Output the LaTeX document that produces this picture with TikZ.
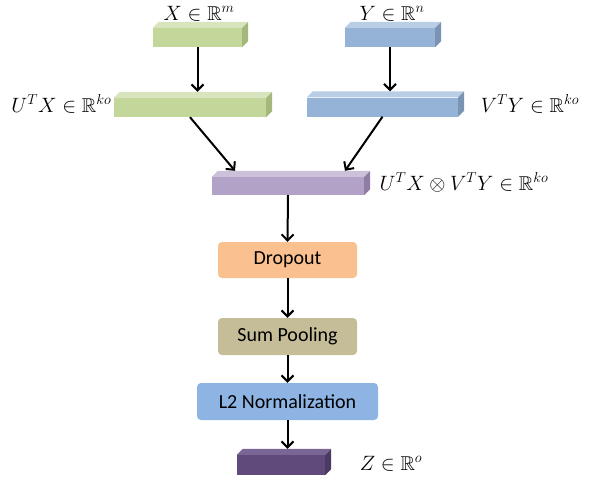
\documentclass[tikz,border=0pt]{standalone}
\usepackage{amsmath, amssymb}
\usepackage{fontspec}
\usepackage{tikz}
\usetikzlibrary{arrows.meta}
\newfontfamily\boxfont{Carlito}

\definecolor{gfront}{HTML}{C4D79B}
\definecolor{gtop}{HTML}{D7E4BD}
\definecolor{gside}{HTML}{A3B87A}
\definecolor{bfront}{HTML}{95B3D7}
\definecolor{btop}{HTML}{B9CDE5}
\definecolor{bside}{HTML}{7A93B3}
\definecolor{pfront}{HTML}{B3A2C7}
\definecolor{ptop}{HTML}{CCC1DA}
\definecolor{pside}{HTML}{8F7DA5}
\definecolor{zfront}{HTML}{604A7B}
\definecolor{ztop}{HTML}{7A6694}
\definecolor{zside}{HTML}{4B3A61}
\definecolor{dropfill}{HTML}{FAC090}
\definecolor{sumfill}{HTML}{C4BD97}
\definecolor{normfill}{HTML}{8DB4E2}

% top and side faces of a flat slab
\newcommand{\slab}[3]{%
  \fill[#2] (#1.north west) -- ++(6pt,6pt) -- ([shift={(6pt,6pt)}]#1.north east) -- (#1.north east) -- cycle;
  \fill[#3] (#1.north east) -- ++(6pt,6pt) -- ([shift={(6pt,6pt)}]#1.south east) -- (#1.south east) -- cycle;
  \coordinate (#1-top) at ([yshift=6pt]#1.north);
}

\begin{document}
\begin{tikzpicture}[x=1pt,y=-1pt,
    slabbox/.style={rectangle,inner sep=0pt,minimum height=19pt},
    layer/.style={rectangle,rounded corners=4pt,inner sep=0pt,minimum width=139pt,minimum height=37pt,font=\boxfont\fontsize{20}{22}\selectfont},
    lbl/.style={inner sep=1pt,font=\fontsize{20}{24}\selectfont},
    flow/.style={line width=2pt,-{Straight Barb[length=6pt,width=12pt]}}]
  \useasboundingbox (0,0) rectangle (595,482);

  \node (X) at (197.5,37.5) [slabbox,fill=gfront,minimum width=89pt] {};
  \node (Y) at (390,37.5) [slabbox,fill=bfront,minimum width=90pt] {};
  \node (U) at (190,107.5) [slabbox,fill=gfront,minimum width=152pt] {};
  \node (V) at (382.5,107) [slabbox,fill=bfront,minimum width=151pt] {};
  \node (W) at (288,186) [slabbox,fill=pfront,minimum width=152pt,minimum height=18pt] {};
  \node (Z) at (281,465) [slabbox,fill=zfront,minimum width=88pt,minimum height=20pt] {};
  \slab{X}{gtop}{gside}
  \slab{Y}{btop}{bside}
  \slab{U}{gtop}{gside}
  \slab{V}{btop}{bside}
  \slab{W}{ptop}{pside}
  \slab{Z}{ztop}{zside}

  \node (drop) at (287.5,260) [layer,fill=dropfill,minimum height=36pt] {Dropout};
  \node (sum) at (287.5,336.5) [layer,fill=sumfill] {Sum Pooling};
  \node (norm) at (287.5,401.5) [layer,fill=normfill,minimum width=181pt] {L2 Normalization};

  \node (Xl) at (199,20) [lbl,anchor=base] {$X \in \mathbb{R}^m$};
  \node (Yl) at (392,20) [lbl,anchor=base] {$Y \in \mathbb{R}^n$};
  \node (Ul) at (61.5,112) [lbl,anchor=base] {$U^T X \in \mathbb{R}^{ko}$};
  \node (Vl) at (530,112) [lbl,anchor=base] {$V^T Y \in \mathbb{R}^{ko}$};
  \node (Wl) at (464,190) [lbl,anchor=base] {$U^T X \otimes V^T Y \in \mathbb{R}^{ko}$};
  \node (Zl) at (391,470) [lbl,anchor=base] {$Z \in \mathbb{R}^o$};

  \draw[flow] (X.south) -- (X.south |- U-top);
  \draw[flow] (Y.south) -- (Y.south |- V-top);
  \draw[flow] (U.south) -- ([xshift=-53pt]W-top);
  \draw[flow] (V.south) -- ([xshift=57pt]W-top);
  \draw[flow] (W.south) -- (drop.north);
  \draw[flow] (drop) -- (sum);
  \draw[flow] (sum) -- (norm);
  \draw[flow] (norm.south) -- (norm.south |- Z-top);
\end{tikzpicture}
\end{document}
